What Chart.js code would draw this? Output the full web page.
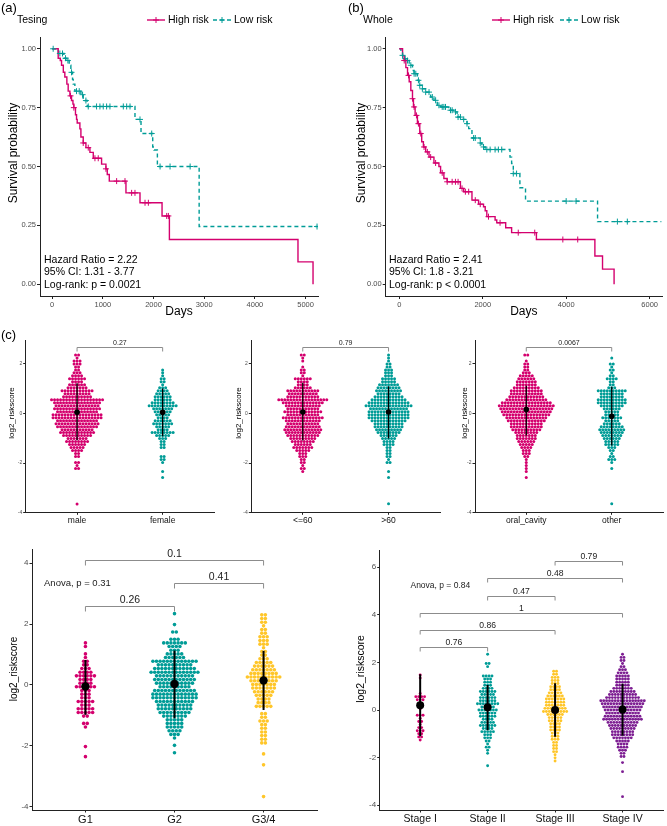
<!DOCTYPE html>
<html>
<head>
<meta charset="utf-8">
<title>Risk score survival and clinical subgroups</title>
<script src="https://cdn.jsdelivr.net/npm/chart.js@4.4.1/dist/chart.umd.min.js"></script>
<style>
  html, body { margin: 0; padding: 0; background: #fff; }
  #page { position: relative; width: 667px; height: 826px; overflow: hidden; }
  .box { position: absolute; }
</style>
</head>
<body>
<div id="page">
  <div class="box" style="left:0;top:0;width:333px;height:326px"><canvas id="kmTest"></canvas></div>
  <div class="box" style="left:333px;top:0;width:334px;height:326px"><canvas id="kmWhole"></canvas></div>
  <div class="box" style="left:0;top:325px;width:222px;height:205px"><canvas id="sexPlot"></canvas></div>
  <div class="box" style="left:222px;top:325px;width:222px;height:205px"><canvas id="agePlot"></canvas></div>
  <div class="box" style="left:444px;top:325px;width:223px;height:205px"><canvas id="sitePlot"></canvas></div>
  <div class="box" style="left:0;top:540px;width:333px;height:286px"><canvas id="gradePlot"></canvas></div>
  <div class="box" style="left:333px;top:540px;width:334px;height:286px"><canvas id="stagePlot"></canvas></div>
</div>
<script>
// Kaplan-Meier curves (days, survival probability) and censor times
const testHighT = [0, 119, 160, 185, 220, 250, 290, 316, 350, 382, 410, 428, 460, 481, 494, 547, 567, 613, 666, 745, 811, 975, 1061, 1087, 1127, 1456, 1733, 2168, 2313, 4850, 5147];
const testHighS = [1, 0.96, 0.95, 0.93, 0.9, 0.88, 0.85, 0.82, 0.8, 0.78, 0.765, 0.75, 0.72, 0.70, 0.685, 0.66, 0.625, 0.60, 0.58, 0.56, 0.535, 0.51, 0.49, 0.466, 0.438, 0.388, 0.346, 0.29, 0.19, 0.095, 0];
const testHighCens = [362, 428, 613, 712, 844, 909, 1061, 1272, 1437, 1568, 1634, 1832, 1898, 2260, 2293];
const testLowT = [0, 119, 231, 283, 336, 369, 402, 415, 448, 567, 613, 646, 692, 1634, 1753, 1984, 2010, 2076, 2900, 5240];
const testLowS = [1, 0.98, 0.96, 0.95, 0.93, 0.90, 0.87, 0.85, 0.82, 0.805, 0.79, 0.78, 0.755, 0.70, 0.64, 0.583, 0.57, 0.50, 0.245, 0.245];
const testLowCens = [20, 152, 204, 264, 310, 382, 481, 534, 600, 666, 712, 876, 942, 1008, 1074, 1140, 1404, 1470, 1536, 1733, 1964, 2129, 2326, 2722, 5226];

const wholeHighT = [0, 79, 119, 158, 198, 238, 277, 317, 340, 380, 435, 491, 538, 578, 633, 713, 831, 950, 990, 1069, 1148, 1465, 1544, 1742, 1900, 2019, 2059, 2098, 2296, 2336, 2550, 2692, 3286, 4687, 4870, 5147];
const wholeHighS = [1, 0.97, 0.95, 0.92, 0.887, 0.86, 0.823, 0.788, 0.753, 0.717, 0.682, 0.64, 0.605, 0.583, 0.562, 0.54, 0.515, 0.5, 0.473, 0.449, 0.435, 0.407, 0.393, 0.357, 0.34, 0.329, 0.312, 0.287, 0.273, 0.261, 0.24, 0.219, 0.19, 0.12, 0.064, 0];
const wholeHighCens = [119, 222, 317, 356, 412, 459, 515, 594, 673, 752, 871, 1029, 1148, 1267, 1346, 1409, 1504, 1584, 1663, 1821, 1940, 2138, 2415, 2851, 3246, 3919, 4276];
const wholeLowT = [0, 40, 79, 119, 158, 238, 317, 356, 435, 475, 554, 633, 752, 831, 910, 990, 1188, 1306, 1386, 1504, 1623, 1663, 1742, 1940, 1980, 2059, 2653, 2692, 2732, 2890, 3025, 4751, 6280];
const wholeLowS = [1, 0.986, 0.972, 0.958, 0.95, 0.93, 0.908, 0.894, 0.866, 0.845, 0.83, 0.816, 0.795, 0.781, 0.76, 0.753, 0.739, 0.732, 0.71, 0.70, 0.682, 0.661, 0.621, 0.6, 0.583, 0.572, 0.54, 0.513, 0.47, 0.41, 0.353, 0.266, 0.266];
const wholeLowCens = [79, 143, 198, 277, 356, 396, 459, 491, 554, 633, 713, 792, 871, 950, 1029, 1069, 1108, 1227, 1267, 1346, 1409, 1465, 1544, 1623, 1782, 1821, 1940, 2019, 2098, 2177, 2296, 2375, 2455, 2732, 2811, 3999, 4236, 5226, 5464];

const kmTicksY = [0, 0.25, 0.5, 0.75, 1];
const testTicksX = [0, 1000, 2000, 3000, 4000, 5000];
const wholeTicksX = [0, 2000, 4000, 6000];
const testStats = ['Hazard Ratio = 2.22', '95% CI: 1.31 - 3.77', 'Log-rank: p = 0.0021'];
const wholeStats = ['Hazard Ratio = 2.41', '95% CI: 1.8 - 3.21', 'Log-rank: p < 0.0001'];

// Dot plots: each group = top bin value, dots per bin going down, and lone outliers
const sexLabels = ['male', 'female'];
const maleTop = 2.34;
const maleRows = [2,1,3,3,2,2,3,4,6,4,6,7,11,9,10,18,16,15,16,14,17,17,14,15,14,11,12,10,7,8,6,5,4,2,2,0,2,1,2];
const maleOut = [-3.65];
const femaleTop = 1.74;
const femaleRows = [1,1,1,2,2,1,3,4,5,6,6,8,10,7,6,5,4,6,7,5,4,8,5,3,2,2,2,0,0,2,2,1,0,0,1,0,1];
const femaleOut = [];
const sexMean = [0.04, 0.04];
const sexLo = [-1.09, -0.93];
const sexHi = [1.2, 0.99];

const ageLabels = ['<=60', '>60'];
const youngTop = 2.34;
const youngRows = [2,1,1,0,1,2,2,1,6,4,4,6,11,10,11,17,14,12,11,13,11,14,12,11,12,13,12,11,9,8,6,7,5,3,3,2,2,1,2,1];
const youngOut = [];
const oldTop = 2.34;
const oldRows = [1,1,1,2,2,3,3,3,5,5,7,8,9,8,10,12,14,16,13,14,14,14,12,10,10,9,8,6,5,4,4,2,2,2,2,1,2,0,0,1,0,1];
const oldOut = [-3.64];
const ageMean = [0.05, 0.05];
const ageLo = [-1.1, -1.02];
const ageHi = [1.22, 1.08];

const siteLabels = ['oral_cavity', 'other'];
const oralTop = 2.34;
const oralRows = [2,0,1,2,2,2,3,5,6,7,7,9,11,11,12,14,17,19,18,17,16,14,13,11,11,10,8,7,7,6,5,4,3,3,2,1,1,1,1,1,0,1];
const oralOut = [];
const otherTop = 2.22;
const otherRows = [1,0,2,1,2,1,2,4,2,2,3,10,8,8,10,10,8,6,5,5,7,5,6,8,9,8,7,6,5,5,3,2,1,2,3,1,0,1];
const otherOut = [-3.64];
const siteMean = [0.15, -0.12];
const siteLo = [-0.9, -1.3];
const siteHi = [1.1, 1.06];

const gradeLabels = ['G1', 'G2', 'G3/4'];
const g1Top = 1.38;
const g1Rows = [1,1,0,1,1,2,2,3,4,6,4,4,6,3,3,3,5,3,5,5,2,0,2,1];
const g1Out = [-2.02, -2.35];
const g2Top = 2.34;
const g2Rows = [1,0,0,1,0,2,0,3,7,4,3,5,6,13,10,12,14,11,12,11,9,12,13,13,11,10,10,9,7,5,5,5,4,3,1,0,1,0,1];
const g2Out = [];
const g34Top = 2.30;
const g34Rows = [2,2,2,1,2,2,3,3,3,1,2,2,3,5,6,7,8,10,8,7,7,6,5,4,4,5,0,2,2,3,2,2,2,2,2,2,0,0,1,0,0,1];
const g34Out = [-3.66];
const gradeMean = [-0.05, 0.03, 0.15];
const gradeLo = [-0.98, -1.09, -0.82];
const gradeHi = [0.82, 1.13, 1.12];
const gradePairs = [[1, 2], [2, 3], [1, 3]];
const gradePairY = [2.6, 3.35, 4.1];
const gradePairP = ['0.26', '0.41', '0.1'];

const stageLabels = ['Stage I', 'Stage II', 'Stage III', 'Stage IV'];
const s1Top = 1.47;
const s1Rows = [1,1,0,0,0,0,1,4,3,0,2,1,0,3,1,2,1,2,3,2,2,1];
const s1Out = [];
const s2Top = 2.34;
const s2Rows = [1,0,0,2,1,0,0,4,3,3,3,4,6,5,6,6,8,5,7,6,6,4,5,6,4,5,3,3,2,1,2,1,1,0,0,0,1];
const s2Out = [];
const s3Top = 1.63;
const s3Rows = [2,2,3,3,3,4,4,5,6,7,7,7,8,9,6,5,5,4,4,4,3,3,3,2,2,2,2,1,1,1];
const s3Out = [];
const s4Top = 2.34;
const s4Rows = [1,2,2,1,2,3,4,5,5,5,5,7,9,10,12,16,15,14,13,12,13,14,11,10,9,8,8,7,5,4,4,3,2,2,0,1];
const s4Out = [-2.59, -3.64];
const stageMean = [0.2, 0.12, 0.0, 0.02];
const stageLo = [-1.1, -0.85, -1.12, -1.08];
const stageHi = [1.5, 1.05, 1.12, 1.1];
const stagePairs = [[1, 2], [1, 3], [1, 4], [2, 3], [2, 4], [3, 4]];
const stagePairY = [2.66, 3.35, 4.09, 4.8, 5.53, 6.26];
const stagePairP = ['0.76', '0.86', '1', '0.47', '0.48', '0.79'];

const PINK = '#D4006E';
const TEAL = '#009C97';
const GOLD = '#FFC629';
const PURPLE = '#7D1E92';
const AXIS = '#222';
const TICK = '#4d4d4d';
const FONT = '"Liberation Sans", Arial, Helvetica, sans-serif';

Chart.defaults.font.family = FONT;
Chart.defaults.animation = false;

function survAt(times, surv, t) {
    let s = surv[0];
    for (let i = 0; i < times.length; i++) {
        if (times[i] <= t) s = surv[i];
    }
    return s;
}

// axis titles sit a bit above the panel centre in the original, so draw them by hand
function sideTitle(ctx, text, x, y, size) {
    ctx.save();
    ctx.translate(x, y);
    ctx.rotate(-Math.PI / 2);
    ctx.fillStyle = '#000';
    ctx.font = size + 'px ' + FONT;
    ctx.textAlign = 'center';
    ctx.textBaseline = 'middle';
    ctx.fillText(text, 0, 0);
    ctx.restore();
}

function kmDecor(o) {
    return {
        id: 'kmDecor',
        afterDraw(chart) {
            const ctx = chart.ctx;
            ctx.save();
            ctx.fillStyle = '#000';
            ctx.textBaseline = 'middle';
            ctx.font = '13px ' + FONT;
            ctx.fillText(o.tag, o.tagX, 8);
            ctx.font = '10.5px ' + FONT;
            ctx.fillText(o.title, o.titleX, 20);
            o.legend.forEach(l => {
                ctx.strokeStyle = l.color;
                ctx.lineWidth = 1.4;
                ctx.setLineDash(l.dash);
                ctx.beginPath();
                ctx.moveTo(l.x, 20);
                ctx.lineTo(l.x + 18, 20);
                ctx.stroke();
                ctx.setLineDash([]);
                ctx.lineWidth = 1;
                ctx.beginPath();
                ctx.moveTo(l.x + 6, 20); ctx.lineTo(l.x + 12, 20);
                ctx.moveTo(l.x + 9, 17); ctx.lineTo(l.x + 9, 23);
                ctx.stroke();
                ctx.fillText(l.text, l.x + 21, 20);
            });
            ctx.font = '10.5px ' + FONT;
            o.stats.forEach((s, i) => ctx.fillText(s, o.statX, 260 + i * 12.5));
            ctx.restore();
            sideTitle(ctx, 'Survival probability', o.yTitleX, 153, 12);
        }
    };
}

function kmChart(id, o) {
    const datasets = [];
    o.curves.forEach(c => {
        datasets.push({
            data: c.t.map((t, i) => ({ x: t, y: c.s[i] })),
            borderColor: c.color, borderWidth: 1.4, borderDash: c.dash,
            stepped: true, pointRadius: 0, fill: false, order: 2
        });
        datasets.push({
            type: 'scatter',
            data: c.cens.map(t => ({ x: t, y: survAt(c.t, c.s, t) })),
            pointStyle: 'cross', pointRadius: 3, borderWidth: 1,
            borderColor: c.color, backgroundColor: c.color, order: 1
        });
    });

    return new Chart(document.getElementById(id), {
        type: 'line',
        data: { datasets },
        options: {
            responsive: true,
            maintainAspectRatio: false,
            events: [],
            layout: { padding: { left: 0, right: o.padRight, top: 37, bottom: 0 } },
            plugins: { legend: { display: false }, tooltip: { enabled: false } },
            scales: {
                x: {
                    type: 'linear', min: o.xMin, max: o.xMax,
                    afterBuildTicks: s => { s.ticks = o.xTicks.map(v => ({ value: v })); },
                    afterFit: s => { s.height = 30; },
                    grid: { display: true, drawOnChartArea: false, tickLength: 3, color: AXIS },
                    border: { display: true, color: AXIS, width: 1 },
                    ticks: { font: { size: 7.5 }, color: TICK, padding: 1, maxRotation: 0, autoSkip: false,
                        callback: v => String(v) },
                    title: { display: true, text: 'Days', font: { size: 12 }, color: '#000', padding: { top: 0, bottom: 7 } }
                },
                y: {
                    type: 'linear', min: -0.05, max: 1.05,
                    afterBuildTicks: s => { s.ticks = kmTicksY.map(v => ({ value: v })); },
                    afterFit: s => { s.width = o.yWidth; },
                    grid: { display: true, drawOnChartArea: false, tickLength: 3, color: AXIS },
                    border: { display: true, color: AXIS, width: 1 },
                    ticks: { font: { size: 7.5 }, color: TICK, padding: 1, callback: v => v.toFixed(2) }
                }
            }
        },
        plugins: [kmDecor(o)]
    });
}

function swarm(center, top, rows, extra, step, dx) {
    const pts = [];
    rows.forEach((n, i) => {
        const y = top - i * step;
        for (let k = 0; k < n; k++) pts.push({ x: center + (k - (n - 1) / 2) * dx, y });
    });
    extra.forEach(y => pts.push({ x: center, y }));
    return pts;
}

function swarmDecor(o) {
    return {
        id: 'swarmDecor',
        afterDatasetsDraw(chart) {
            const { ctx, scales: { x, y } } = chart;
            ctx.save();
            ctx.strokeStyle = '#8c8c8c';
            ctx.lineWidth = 1;
            ctx.fillStyle = '#222';
            ctx.textAlign = 'center';
            ctx.textBaseline = 'bottom';
            ctx.font = o.pFont + 'px ' + FONT;
            (o.pairs || []).forEach((pr, i) => {
                const x1 = x.getPixelForValue(pr[0]);
                const x2 = x.getPixelForValue(pr[1]);
                const yy = Math.round(y.getPixelForValue(o.pairY[i])) + 0.5;
                ctx.beginPath();
                ctx.moveTo(x1, yy + o.drop); ctx.lineTo(x1, yy);
                ctx.lineTo(x2, yy); ctx.lineTo(x2, yy + o.drop);
                ctx.stroke();
                ctx.fillText(o.pairP[i], (x1 + x2) / 2, yy - 1);
            });
            if (o.anova) {
                ctx.textAlign = 'left';
                ctx.textBaseline = 'middle';
                ctx.font = o.anovaFont + 'px ' + FONT;
                ctx.fillText(o.anova, x.getPixelForValue(o.anovaX), y.getPixelForValue(o.anovaY));
            }
            if (o.tag) {
                ctx.textAlign = 'left';
                ctx.textBaseline = 'middle';
                ctx.fillStyle = '#000';
                ctx.font = '13px ' + FONT;
                ctx.fillText(o.tag, 1, 10);
            }
            ctx.restore();
            sideTitle(ctx, 'log2_riskscore', o.yTitleX, o.yTitleY, o.titleFont);
        }
    };
}

function swarmChart(id, o) {
    const cats = o.labels.map((_, i) => i + 1);
    const datasets = [];
    o.groups.forEach(g => {
        datasets.push({ type: 'scatter', data: [], backgroundColor: g.color, borderWidth: 0, pointRadius: o.dot, order: 3 });
    });
    cats.forEach((c, i) => {
        datasets.push({
            type: 'line', data: [{ x: c, y: o.lo[i] }, { x: c, y: o.hi[i] }],
            borderColor: '#000', borderWidth: o.barW, pointRadius: 0, fill: false, order: 2
        });
    });
    datasets.push({
        type: 'scatter', data: cats.map((c, i) => ({ x: c, y: o.mean[i] })),
        backgroundColor: '#000', borderWidth: 0, pointRadius: o.meanR, order: 1
    });

    const chart = new Chart(document.getElementById(id), {
        type: 'scatter',
        data: { datasets },
        options: {
            responsive: true,
            maintainAspectRatio: false,
            events: [],
            layout: { padding: { left: 0, right: o.padRight, top: o.padTop, bottom: 0 } },
            plugins: { legend: { display: false }, tooltip: { enabled: false } },
            scales: {
                x: {
                    type: 'linear', min: 0.4, max: cats.length + 0.6,
                    afterBuildTicks: s => { s.ticks = cats.map(v => ({ value: v })); },
                    afterFit: s => { s.height = o.xHeight; },
                    grid: { display: true, drawOnChartArea: false, tickLength: 2.5, color: AXIS },
                    border: { display: true, color: AXIS, width: 1 },
                    ticks: { font: { size: o.xFont }, color: '#111', padding: o.xPad, maxRotation: 0, autoSkip: false,
                        callback: (v, i) => o.labels[i] }
                },
                y: {
                    type: 'linear', min: o.yMin, max: o.yMax,
                    afterBuildTicks: s => { s.ticks = o.yTicks.map(v => ({ value: v })); },
                    afterFit: s => { s.width = o.yWidth; },
                    grid: { display: true, drawOnChartArea: false, tickLength: 2.5, color: AXIS },
                    border: { display: true, color: AXIS, width: 1 },
                    ticks: { font: { size: o.tickFont }, color: TICK, padding: 1 }
                }
            }
        },
        plugins: [swarmDecor(o)]
    });

    const ppu = chart.scales.x.getPixelForValue(1) - chart.scales.x.getPixelForValue(0);
    const dx = o.pitch / ppu;
    o.groups.forEach((g, i) => {
        chart.data.datasets[i].data = swarm(i + 1, g.top, g.rows, g.out, o.step, dx);
    });
    chart.update('none');
    return chart;
}

kmChart('kmTest', {
    xMin: -240, xMax: 5245, xTicks: testTicksX, padRight: 15, yWidth: 40, yTitleX: 14,
    tag: '(a)', tagX: 1, title: 'Tesing', titleX: 17, statX: 44, stats: testStats,
    legend: [
        { x: 147, text: 'High risk', color: PINK, dash: [] },
        { x: 213, text: 'Low risk', color: TEAL, dash: [4, 3] }
    ],
    curves: [
        { t: testHighT, s: testHighS, cens: testHighCens, color: PINK, dash: [] },
        { t: testLowT, s: testLowS, cens: testLowCens, color: TEAL, dash: [4, 3] }
    ]
});

kmChart('kmWhole', {
    xMin: -325, xMax: 6295, xTicks: wholeTicksX, padRight: 2, yWidth: 52.7, yTitleX: 28.3,
    tag: '(b)', tagX: 15, title: 'Whole', titleX: 30, statX: 56, stats: wholeStats,
    legend: [
        { x: 159, text: 'High risk', color: PINK, dash: [] },
        { x: 227, text: 'Low risk', color: TEAL, dash: [4, 3] }
    ],
    curves: [
        { t: wholeHighT, s: wholeHighS, cens: wholeHighCens, color: PINK, dash: [] },
        { t: wholeLowT, s: wholeLowS, cens: wholeLowCens, color: TEAL, dash: [4, 3] }
    ]
});

const smallPanel = {
    step: 0.12, dot: 1.5, pitch: 3, meanR: 2.8, barW: 1.3,
    yMin: -3.98, yMax: 2.94, yTicks: [-4, -2, 0, 2],
    padTop: 15, xHeight: 17.7, xFont: 8.5, xPad: 1, tickFont: 5, titleFont: 8,
    yTitleY: 88, pFont: 7, drop: 4
};

swarmChart('sexPlot', Object.assign({}, smallPanel, {
    labels: sexLabels, yWidth: 25.7, padRight: 8, yTitleX: 11.7, tag: '(c)',
    groups: [
        { top: maleTop, rows: maleRows, out: maleOut, color: PINK },
        { top: femaleTop, rows: femaleRows, out: femaleOut, color: TEAL }
    ],
    mean: sexMean, lo: sexLo, hi: sexHi,
    pairs: [[1, 2]], pairY: [2.67], pairP: ['0.27']
}));

swarmChart('agePlot', Object.assign({}, smallPanel, {
    labels: ageLabels, yWidth: 29.3, padRight: 4, yTitleX: 16.3,
    groups: [
        { top: youngTop, rows: youngRows, out: youngOut, color: PINK },
        { top: oldTop, rows: oldRows, out: oldOut, color: TEAL }
    ],
    mean: ageMean, lo: ageLo, hi: ageHi,
    pairs: [[1, 2]], pairY: [2.67], pairP: ['0.79']
}));

swarmChart('sitePlot', Object.assign({}, smallPanel, {
    labels: siteLabels, yWidth: 31, padRight: 1, yTitleX: 20.3,
    groups: [
        { top: oralTop, rows: oralRows, out: oralOut, color: PINK },
        { top: otherTop, rows: otherRows, out: otherOut, color: TEAL }
    ],
    mean: siteMean, lo: siteLo, hi: siteHi,
    pairs: [[1, 2]], pairY: [2.67], pairP: ['0.0067']
}));

swarmChart('gradePlot', {
    labels: gradeLabels, step: 0.12, dot: 1.8, pitch: 3.6, meanR: 4.2, barW: 2,
    yMin: -4.1, yMax: 4.46, yTicks: [-4, -2, 0, 2, 4],
    padTop: 9, padRight: 16, xHeight: 16, xFont: 11, xPad: 0.5, tickFont: 8, titleFont: 10,
    yWidth: 32, yTitleX: 14, yTitleY: 129,
    groups: [
        { top: g1Top, rows: g1Rows, out: g1Out, color: PINK },
        { top: g2Top, rows: g2Rows, out: g2Out, color: TEAL },
        { top: g34Top, rows: g34Rows, out: g34Out, color: GOLD }
    ],
    mean: gradeMean, lo: gradeLo, hi: gradeHi,
    pairs: gradePairs, pairY: gradePairY, pairP: gradePairP, pFont: 10.5, drop: 5,
    anova: 'Anova, p = 0.31', anovaX: 0.535, anovaY: 3.34, anovaFont: 9.5
});

swarmChart('stagePlot', {
    labels: stageLabels, step: 0.13, dot: 1.45, pitch: 2.9, meanR: 4, barW: 2,
    yMin: -4.2, yMax: 6.72, yTicks: [-4, -2, 0, 2, 4, 6],
    padTop: 10, padRight: 1, xHeight: 16, xFont: 10.5, xPad: 0.5, tickFont: 8, titleFont: 10.5,
    yWidth: 46.7, yTitleX: 28.3, yTitleY: 129,
    groups: [
        { top: s1Top, rows: s1Rows, out: s1Out, color: PINK },
        { top: s2Top, rows: s2Rows, out: s2Out, color: TEAL },
        { top: s3Top, rows: s3Rows, out: s3Out, color: GOLD },
        { top: s4Top, rows: s4Rows, out: s4Out, color: PURPLE }
    ],
    mean: stageMean, lo: stageLo, hi: stageHi,
    pairs: stagePairs, pairY: stagePairY, pairP: stagePairP, pFont: 8.6, drop: 4,
    anova: 'Anova, p = 0.84', anovaX: 0.856, anovaY: 5.24, anovaFont: 8.5
});
</script>
</body>
</html>
